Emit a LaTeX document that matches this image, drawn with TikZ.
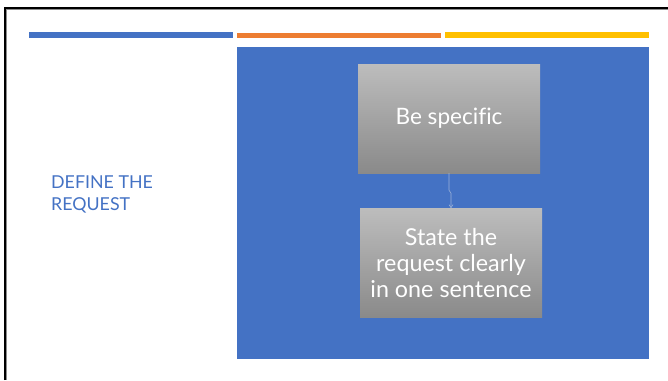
\documentclass[tikz,border=0pt]{standalone}
\usepackage{fontspec}
\usepackage{xcolor}
\usetikzlibrary{positioning}
\usetikzlibrary{arrows.meta}
\newfontfamily\slidefont[Ligatures=NoCommon]{Lato}

\definecolor{accblue}{HTML}{4472C4}
\definecolor{accorange}{HTML}{ED7D31}
\definecolor{accyellow}{HTML}{FFC000}
\definecolor{flowgray}{HTML}{9DB3D8}

\tikzset{
  bar/.style={fill=#1, draw=none},
  stepbox/.style={rectangle, minimum width=182pt, minimum height=109pt,
    top color=black!26, bottom color=black!46, draw=none,
    text=white, align=center, font=\slidefont\fontsize{23.3}{26}\selectfont},
  flow/.style={draw=flowgray, line width=0.6pt, -{Straight Barb[length=3pt,width=4pt]}},
  title/.style={text=accblue, align=left, anchor=north west, inner sep=0pt,
    font=\slidefont\fontsize{17.8}{22}\selectfont}
}

\begin{document}
\begin{tikzpicture}[x=1pt, y=-1pt]
  \useasboundingbox (0,0) rectangle (668,380);

  % Frame
  \draw[black!45, line width=1pt] (6.5,380) -- (6.5,9.8) -- (668,9.8);
  \draw[black, line width=2pt] (5,380) -- (5,8) -- (668,8);

  % Accent bars
  \fill[bar=accblue] (29,32) rectangle (233,38);
  \fill[bar=accorange] (237,33) rectangle (441,38);
  \fill[bar=accyellow] (445,32) rectangle (649,38);

  % Panel
  \fill[accblue] (237,47) rectangle (649,359);

  % Title
  \node[title] (head) at (51,176) {DEFINE THE\\REQUEST};

  % Define nodes
  \node[stepbox, font=\slidefont\fontsize{22.6}{26}\selectfont] (spec) at (449,118.5) {Be specific};
  \node[stepbox, below=35pt of spec, xshift=2pt] (state) {State the\\request clearly\\in one sentence};

  % Connect nodes
  \draw[flow] (spec.south) -- ++(0,17) -- ++(2,3) -- (state.north);

\end{tikzpicture}
\end{document}
